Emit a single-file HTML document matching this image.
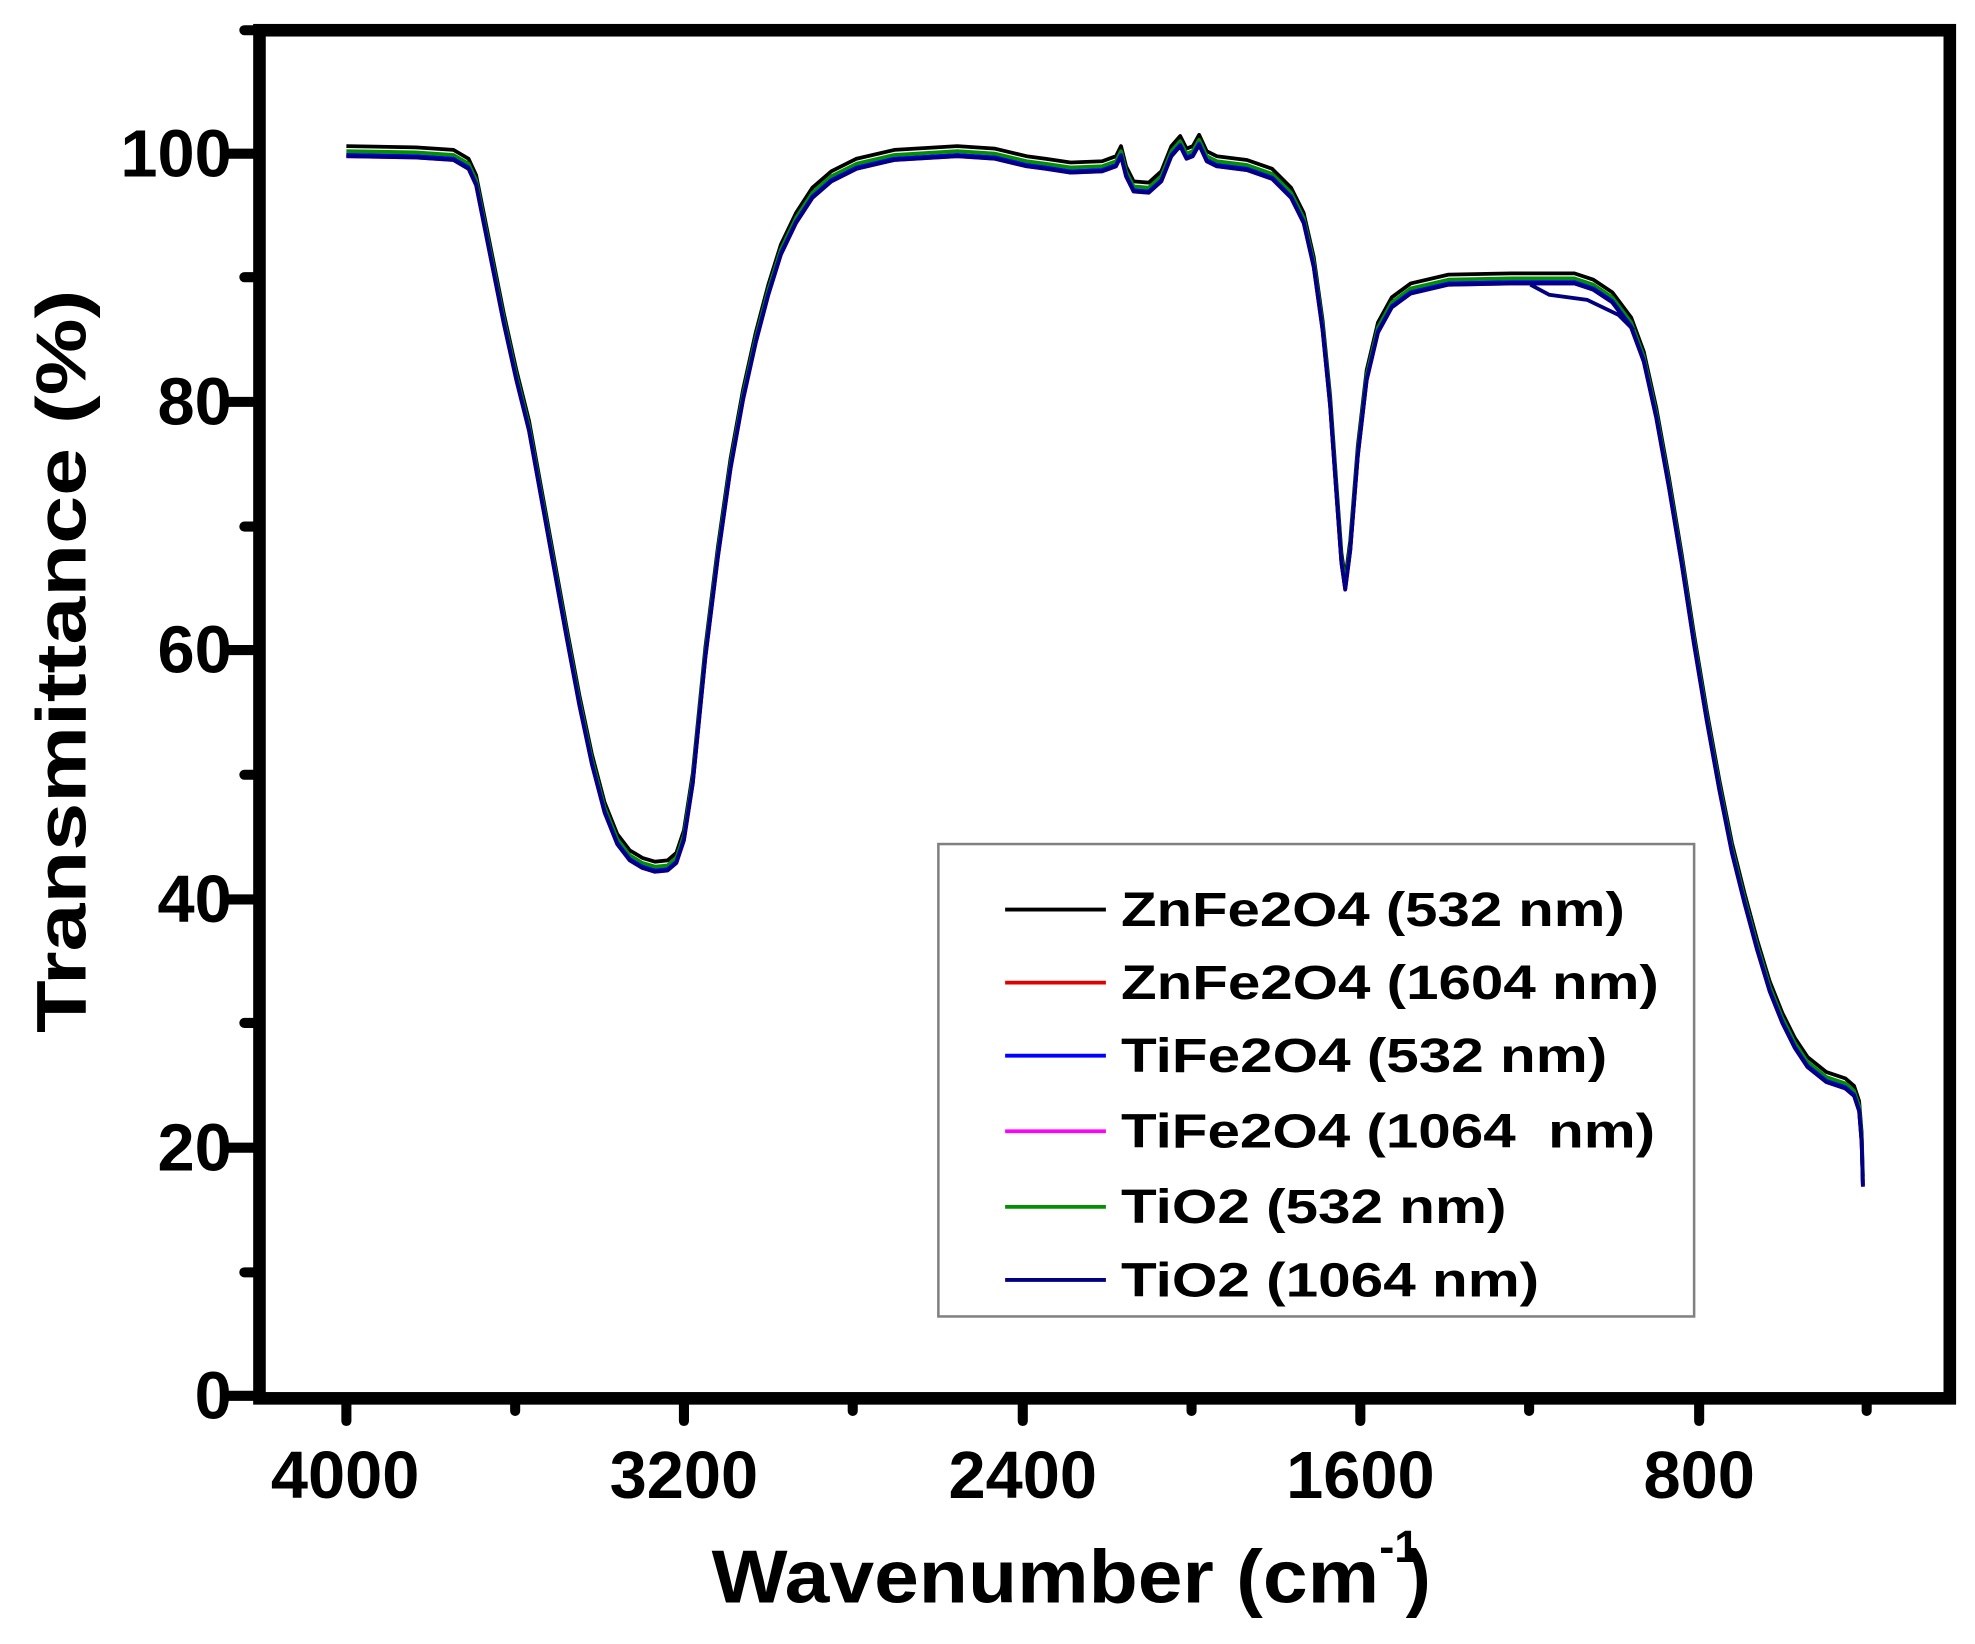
<!DOCTYPE html>
<html><head><meta charset="utf-8"><style>
html,body{margin:0;padding:0;background:#fff}
svg{display:block}
text{font-family:"Liberation Sans",Arial,sans-serif;font-weight:bold;fill:#000}
</style></head><body>
<svg width="1975" height="1644" viewBox="0 0 1568 1305" preserveAspectRatio="none">
<defs>
<path id="s" fill="none" stroke-linejoin="round" d="M275,122 L330,123 L360,125 L372,132 L378,145 L384,175 L392,215 L400,255 L410,300 L420,340 L430,395 L440,450 L450,505 L460,558 L470,605 L480,643 L490,668 L500,681 L510,687 L520,690 L530,689 L537,683 L543,665 L550,620 L560,520 L570,440 L580,370 L590,315 L600,270 L610,232 L620,200 L632,175 L645,155 L660,142 L680,132 L710,125 L760,122 L790,124 L815,130 L830,132 L850,135 L875,134 L886,130 L890,122 L894,138 L900,150 L912,151 L922,142 L930,122 L937,114 L942,124 L947,122 L952,113 L958,126 L966,130 L990,133 L1010,140 L1025,155 L1035,175 L1043,210 L1050,260 L1056,320 L1061,390 L1065,445 L1068,466 L1072,435 L1078,360 L1085,300 L1094,262 L1105,242 L1120,231 L1150,224 L1200,223 L1250,223 L1265,228 L1280,238 L1295,258 L1305,285 L1315,330 L1325,385 L1335,445 L1345,510 L1355,570 L1365,625 L1375,675 L1385,715 L1395,752 L1405,785 L1415,810 L1425,830 L1435,845 L1450,857 L1465,862 L1472,868 L1476,880 L1478,905 L1479,940"/>
</defs>
<g stroke-width="3">
<use href="#s" stroke="#000" transform="translate(0,-6)"/>
<use href="#s" stroke="#e00000" transform="translate(0,1)"/>
<use href="#s" stroke="#ff00ff" transform="translate(0,2)"/>
<use href="#s" stroke="#009000" transform="translate(0,-2)"/>
<use href="#s" stroke="#0000ff" transform="translate(0,1)"/>
<use href="#s" stroke="#000080" transform="translate(0,2)"/>
</g>
<path d="M1215,226 L1230,234 L1260,238 L1285,250 L1297,262" stroke="#000080" stroke-width="3" fill="none"/>
<!-- frame -->
<rect x="206" y="24" width="1342" height="1086" fill="none" stroke="#000" stroke-width="10"/>
<g stroke="#000" stroke-width="8" stroke-linecap="round">
<line x1="206" y1="1108" x2="180" y2="1108"/><line x1="206" y1="911" x2="180" y2="911"/>
<line x1="206" y1="714" x2="180" y2="714"/><line x1="206" y1="516" x2="180" y2="516"/>
<line x1="206" y1="319" x2="180" y2="319"/><line x1="206" y1="122" x2="180" y2="122"/>
<line x1="206" y1="1010" x2="194" y2="1010"/><line x1="206" y1="812" x2="194" y2="812"/>
<line x1="206" y1="615" x2="194" y2="615"/><line x1="206" y1="418" x2="194" y2="418"/>
<line x1="206" y1="220" x2="194" y2="220"/><line x1="206" y1="24" x2="194" y2="24"/>
<line x1="275" y1="1110" x2="275" y2="1128"/><line x1="543" y1="1110" x2="543" y2="1128"/>
<line x1="812" y1="1110" x2="812" y2="1128"/><line x1="1080" y1="1110" x2="1080" y2="1128"/>
<line x1="1349" y1="1110" x2="1349" y2="1128"/>
<line x1="409" y1="1110" x2="409" y2="1120"/><line x1="677" y1="1110" x2="677" y2="1120"/>
<line x1="946" y1="1110" x2="946" y2="1120"/><line x1="1214" y1="1110" x2="1214" y2="1120"/>
<line x1="1482" y1="1110" x2="1482" y2="1120"/>
</g>
<g font-size="53" text-anchor="end">
<text x="184" y="1126">0</text><text x="184" y="929">20</text><text x="184" y="732">40</text>
<text x="184" y="534">60</text><text x="184" y="337">80</text><text x="184" y="140">100</text>
</g>
<g font-size="53" text-anchor="middle">
<text x="274" y="1189">4000</text><text x="543" y="1189">3200</text><text x="812" y="1189">2400</text>
<text x="1080" y="1189">1600</text><text x="1349" y="1189">800</text>
</g>
<text x="565" y="1272" font-size="60" textLength="530" lengthAdjust="spacingAndGlyphs">Wavenumber (cm</text>
<text x="1095" y="1240" font-size="36">-1</text>
<text x="1116" y="1272" font-size="60">)</text>
<text transform="translate(68,525) rotate(-90)" font-size="56" text-anchor="middle" textLength="590" lengthAdjust="spacingAndGlyphs">Transmittance (%)</text>
<rect x="745" y="670" width="600" height="375" fill="#fff" stroke="#808080" stroke-width="2"/>
<g stroke-width="3">
<line x1="798" y1="722" x2="878" y2="722" stroke="#000"/>
<line x1="798" y1="780" x2="878" y2="780" stroke="#e00000"/>
<line x1="798" y1="838" x2="878" y2="838" stroke="#0000ff"/>
<line x1="798" y1="898" x2="878" y2="898" stroke="#ff00ff"/>
<line x1="798" y1="958" x2="878" y2="958" stroke="#009000"/>
<line x1="798" y1="1016" x2="878" y2="1016" stroke="#000080"/>
</g>
<g font-size="38">
<text x="890" y="735" textLength="400" lengthAdjust="spacingAndGlyphs">ZnFe2O4 (532 nm)</text>
<text x="890" y="793" textLength="427" lengthAdjust="spacingAndGlyphs">ZnFe2O4 (1604 nm)</text>
<text x="890" y="851" textLength="386" lengthAdjust="spacingAndGlyphs">TiFe2O4 (532 nm)</text>
<text x="890" y="911" textLength="424" lengthAdjust="spacingAndGlyphs" xml:space="preserve">TiFe2O4 (1064  nm)</text>
<text x="890" y="971" textLength="306" lengthAdjust="spacingAndGlyphs">TiO2 (532 nm)</text>
<text x="890" y="1029" textLength="332" lengthAdjust="spacingAndGlyphs">TiO2 (1064 nm)</text>
</g>
</svg>
</body></html>
